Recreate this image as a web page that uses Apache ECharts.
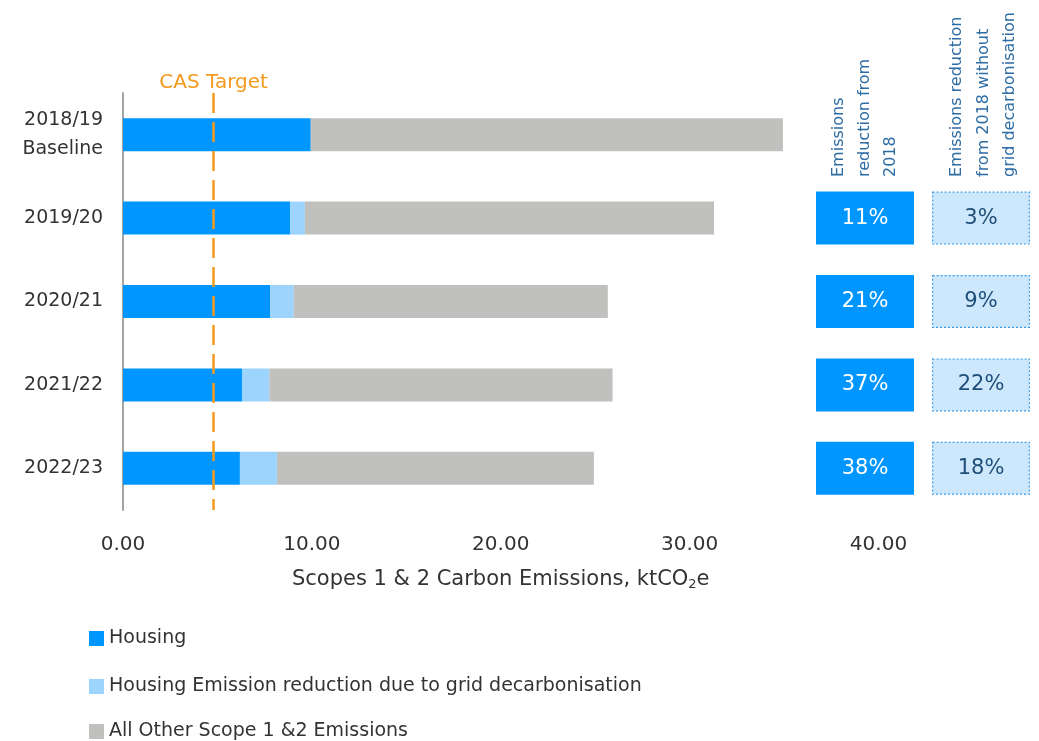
<!DOCTYPE html>
<html>
<head>
<meta charset="utf-8">
<title>Scopes 1 & 2 Carbon Emissions</title>
<script src="https://cdn.jsdelivr.net/npm/echarts@6/dist/echarts.min.js"></script>
<style>
  html, body { margin: 0; padding: 0; background: #ffffff; }
  #chart { width: 1039px; height: 741px; }
</style>
</head>
<body>
<div id="chart"></div>
<script>
// Reporting years (top to bottom)
const categories = ['2018/19\nBaseline', '2019/20', '2020/21', '2021/22', '2022/23'];

// Emissions, ktCO2e
const housing = [9.94, 8.86, 7.80, 6.30, 6.19];
const gridDecarbonisation = [0, 0.77, 1.24, 1.45, 1.96];
const otherScope12 = [25.00, 21.66, 16.63, 18.17, 16.78];

// Series names, in legend order
const seriesNames = [
  'Housing',
  'Housing Emission reduction due to grid decarbonisation',
  'All Other Scope 1 &2 Emissions'
];

// Climate Action Strategy target, ktCO2e
const casTarget = 4.8;

// Side panels: reductions relative to the 2018/19 baseline
const reductionFrom2018 = [null, '11%', '21%', '37%', '38%'];
const reductionWithoutGrid = [null, '3%', '9%', '22%', '18%'];

// Value axis ticks
const xMin = 0, xMax = 40, xStep = 10;

const FONT = '"DejaVu Sans", "Noto Sans", sans-serif';
const BLUE = '#0096FF';
const LIGHT_BLUE = '#9DD4FD';
const GREY = '#C0C1BE';
const ORANGE = '#F39A1E';
const HEADER_BLUE = '#2E6DA4';
const TEXT = '#333333';

const chart = echarts.init(document.getElementById('chart'), null, { renderer: 'canvas' });

const gridTop = 93, gridHeight = 417;

function panelSeries(idx, labels, style, textColor) {
  return {
    type: 'bar',
    xAxisIndex: idx,
    yAxisIndex: idx,
    barWidth: 53,
    silent: true,
    data: labels.map(v => (v ? 1 : '-')),
    itemStyle: style,
    label: {
      show: true,
      position: 'inside',
      formatter: p => labels[p.dataIndex] || '',
      color: textColor,
      fontFamily: FONT,
      fontSize: 21
    }
  };
}

// One single-entry legend per row, stacked below the chart
const legendTops = [629, 677, 722];
const legends = seriesNames.map((name, i) => ({
  orient: 'vertical',
  left: 89,
  top: legendTops[i],
  padding: 0,
  itemWidth: 15,
  itemHeight: 15,
  icon: 'rect',
  data: [name],
  textStyle: { fontFamily: FONT, fontSize: 19, lineHeight: 16, color: TEXT }
}));

const option = {
  backgroundColor: '#ffffff',
  animation: false,
  grid: [
    { left: 123, right: 160.5, top: gridTop, height: gridHeight },
    { left: 816, width: 98, top: gridTop, height: gridHeight },
    { left: 932, width: 98, top: gridTop, height: gridHeight }
  ],
  xAxis: [
    {
      type: 'value',
      gridIndex: 0,
      min: xMin,
      max: xMax,
      interval: xStep,
      axisLine: { show: false },
      axisTick: { show: false },
      splitLine: { show: false },
      axisLabel: {
        formatter: v => v.toFixed(2),
        fontFamily: FONT,
        fontSize: 20,
        color: TEXT,
        margin: 25
      },
      name: 'Scopes 1 & 2 Carbon Emissions, ktCO{sub|2}e',
      nameLocation: 'middle',
      nameGap: 59,
      nameTextStyle: {
        fontFamily: FONT,
        fontSize: 21,
        color: TEXT,
        rich: {
          sub: { fontFamily: FONT, fontSize: 13, color: TEXT, padding: [9, 0, 0, 0] }
        }
      }
    },
    { type: 'value', gridIndex: 1, min: 0, max: 1, show: false },
    { type: 'value', gridIndex: 2, min: 0, max: 1, show: false }
  ],
  yAxis: [
    {
      type: 'category',
      gridIndex: 0,
      inverse: true,
      data: categories,
      axisLine: { show: true, lineStyle: { color: '#A3A3A3', width: 2 } },
      axisTick: { show: false },
      axisLabel: {
        fontFamily: FONT,
        fontSize: 19,
        color: TEXT,
        margin: 20,
        lineHeight: 29
      }
    },
    { type: 'category', gridIndex: 1, inverse: true, data: categories, show: false },
    { type: 'category', gridIndex: 2, inverse: true, data: categories, show: false }
  ],
  legend: legends,
  series: [
    {
      name: seriesNames[0],
      type: 'bar',
      stack: 'total',
      barWidth: 33,
      data: housing,
      itemStyle: { color: BLUE },
      markLine: {
        silent: true,
        symbol: ['none', 'none'],
        lineStyle: { color: ORANGE, type: [20, 9], width: 2.5 },
        label: {
          show: true,
          position: 'start',
          formatter: 'CAS Target',
          color: ORANGE,
          fontFamily: FONT,
          fontSize: 20,
          distance: 0
        },
        data: [{ xAxis: casTarget }]
      }
    },
    {
      name: seriesNames[1],
      type: 'bar',
      stack: 'total',
      barWidth: 33,
      data: gridDecarbonisation,
      itemStyle: { color: LIGHT_BLUE }
    },
    {
      name: seriesNames[2],
      type: 'bar',
      stack: 'total',
      barWidth: 33,
      data: otherScope12,
      itemStyle: { color: GREY }
    },
    panelSeries(1, reductionFrom2018, { color: BLUE }, '#ffffff'),
    panelSeries(2, reductionWithoutGrid,
      { color: '#CDE8FC', borderColor: '#3A9DEB', borderWidth: 1.2, borderType: [2, 2] },
      '#1F4E79')
  ],
  graphic: [
    {
      type: 'text',
      x: 826,
      y: 177,
      rotation: Math.PI / 2,
      style: {
        text: 'Emissions\nreduction from\n2018',
        fontFamily: FONT,
        fontSize: 16,
        lineHeight: 26,
        fill: HEADER_BLUE,
        align: 'left',
        verticalAlign: 'top'
      }
    },
    {
      type: 'text',
      x: 944,
      y: 177,
      rotation: Math.PI / 2,
      style: {
        text: 'Emissions reduction\nfrom 2018 without\ngrid decarbonisation',
        fontFamily: FONT,
        fontSize: 16,
        lineHeight: 26.5,
        fill: HEADER_BLUE,
        align: 'left',
        verticalAlign: 'top'
      }
    }
  ]
};

chart.setOption(option);
</script>
</body>
</html>
